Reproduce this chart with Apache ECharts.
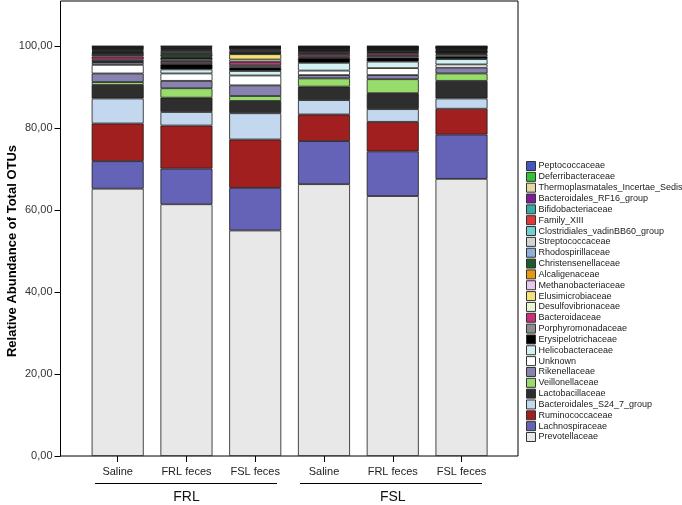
<!DOCTYPE html>
<html>
<head>
<meta charset="utf-8">
<script src="https://cdn.jsdelivr.net/npm/echarts@6/dist/echarts.min.js"></script>
<style>
html,body{margin:0;padding:0;background:#fff;}
#c{width:682px;height:505px;}
</style>
</head>
<body>
<div id="c"></div>
<script>
// Categories (bottom axis) and groups
var categories = ['Saline', 'FRL feces', 'FSL feces', 'Saline', 'FRL feces', 'FSL feces'];
var groups = ['FRL', 'FSL'];
var yTicks = [0, 20, 40, 60, 80, 100];

// Series values (% of total OTUs), stacking order bottom -> top
var prevotellaceae      = [65.2, 61.4, 55.0, 66.3, 63.4, 67.6];
var lachnospiraceae     = [6.7, 8.7, 10.4, 10.5, 10.9, 10.8];
var ruminococcaceae     = [9.2, 10.5, 11.8, 6.5, 7.2, 6.3];
var s24_7               = [6.1, 3.3, 6.4, 3.5, 3.1, 2.5];
var lactobacillaceae    = [3.3, 3.5, 3.0, 3.3, 3.9, 4.3];
var veillonellaceae     = [0.7, 2.3, 1.2, 2.0, 3.4, 1.8];
var rikenellaceae       = [2.1, 1.8, 2.6, 0.8, 1.0, 1.4];
var unknown             = [2.1, 1.8, 2.4, 1.1, 1.7, 0.8];
var helicobacteraceae   = [0.5, 1.0, 1.1, 1.9, 1.6, 1.3];
var erysipelotrichaceae = [0.4, 1.3, 0.9, 1.2, 1.0, 0.7];
var porphyromonadaceae  = [0.4, 0.5, 0.5, 0.4, 0.4, 0.5];
var bacteroidaceae      = [0.7, 0.4, 0.8, 0.5, 0.5, 0.2];
var desulfovibrionaceae = [0.4, 0.4, 0.6, 0.3, 0.3, 0.2];
var elusimicrobiaceae   = [0.1, 0.1, 1.3, 0.1, 0.1, 0.1];
var methanobacteriaceae = [0.3, 0.2, 0.2, 0.3, 0.3, 0.1];
var alcaligenaceae      = [0.1, 0.2, 0.1, 0.1, 0.1, 0.1];
var christensenellaceae = [0.2, 0.6, 0.4, 0.2, 0.2, 0.3];
var rhodospirillaceae   = [0.2, 0.3, 0.2, 0.1, 0.1, 0.1];
var streptococcaceae    = [0.2, 0.4, 0.3, 0.2, 0.1, 0.2];
var vadinBB60           = [0.2, 0.2, 0.2, 0.1, 0.1, 0.1];
var familyXIII          = [0.2, 0.2, 0.1, 0.1, 0.1, 0.1];
var bifidobacteriaceae  = [0.1, 0.2, 0.1, 0.1, 0.1, 0.1];
var rf16                = [0.2, 0.2, 0.1, 0.1, 0.1, 0.1];
var thermoplasmatales   = [0.1, 0.2, 0.1, 0.1, 0.1, 0.1];
var deferribacteraceae  = [0.2, 0.2, 0.1, 0.1, 0.1, 0.1];
var peptococcaceae      = [0.1, 0.1, 0.1, 0.1, 0.1, 0.1];

var seriesDefs = [
  ['Prevotellaceae', prevotellaceae, '#e8e8e8'],
  ['Lachnospiraceae', lachnospiraceae, '#6563b8'],
  ['Ruminococcaceae', ruminococcaceae, '#a21f1f'],
  ['Bacteroidales_S24_7_group', s24_7, '#c3d8ee'],
  ['Lactobacillaceae', lactobacillaceae, '#2e2e2e'],
  ['Veillonellaceae', veillonellaceae, '#98dd6c'],
  ['Rikenellaceae', rikenellaceae, '#8782b0'],
  ['Unknown', unknown, '#ffffff'],
  ['Helicobacteraceae', helicobacteraceae, '#d3f0f2'],
  ['Erysipelotrichaceae', erysipelotrichaceae, '#000000'],
  ['Porphyromonadaceae', porphyromonadaceae, '#8c8c8c'],
  ['Bacteroidaceae', bacteroidaceae, '#c8307a'],
  ['Desulfovibrionaceae', desulfovibrionaceae, '#e6f6d6'],
  ['Elusimicrobiaceae', elusimicrobiaceae, '#f6e27a'],
  ['Methanobacteriaceae', methanobacteriaceae, '#e8c8ec'],
  ['Alcaligenaceae', alcaligenaceae, '#e8980e'],
  ['Christensenellaceae', christensenellaceae, '#1d5a2c'],
  ['Rhodospirillaceae', rhodospirillaceae, '#8eb0d8'],
  ['Streptococcaceae', streptococcaceae, '#d4d4d4'],
  ['Clostridiales_vadinBB60_group', vadinBB60, '#70d0d2'],
  ['Family_XIII', familyXIII, '#e03838'],
  ['Bifidobacteriaceae', bifidobacteriaceae, '#34aca4'],
  ['Bacteroidales_RF16_group', rf16, '#7c1c96'],
  ['Thermoplasmatales_Incertae_Sedis', thermoplasmatales, '#e2d8a2'],
  ['Deferribacteraceae', deferribacteraceae, '#36c036'],
  ['Peptococcaceae', peptococcaceae, '#4258c0']
];

var FONT = 'Arial, "Liberation Sans", sans-serif';

var series = seriesDefs.map(function (d) {
  return {
    name: d[0], type: 'bar', stack: 'total',
    xAxisIndex: 1, yAxisIndex: 1,
    barWidth: 52,
    data: d[1],
    itemStyle: { color: d[2], borderColor: '#1a1a1a', borderWidth: 0.8 },
    emphasis: { disabled: true },
    animation: false
  };
});

var legendData = seriesDefs.map(function (d) { return d[0]; }).reverse();

var chart = echarts.init(document.getElementById('c'), null, { renderer: 'canvas' });
chart.setOption({
  backgroundColor: '#ffffff',
  animation: false,
  grid: [
    { left: 60.5, right: 164, top: 46, bottom: 49, show: false, outerBoundsMode: 'none', containLabel: false },
    { left: 83.3, width: 412.6, top: 46, bottom: 49, show: false, outerBoundsMode: 'none', containLabel: false },
    { left: 60.5, right: 164, top: 1, bottom: 49, show: true, borderColor: '#000', borderWidth: 1, backgroundColor: 'transparent', outerBoundsMode: 'none' }
  ],
  xAxis: [
    { type: 'value', gridIndex: 0, show: false, min: 0, max: 1 },
    { type: 'category', gridIndex: 1, data: categories, position: 'bottom',
      axisLine: { show: false },
      axisTick: { show: true, alignWithLabel: true, length: 6, lineStyle: { color: '#000', width: 1 } },
      axisLabel: { fontSize: 11, color: '#222', margin: 10, fontFamily: FONT } },
    { type: 'category', gridIndex: 1, data: groups, position: 'bottom', offset: 26,
      axisLine: { show: false }, axisTick: { show: false },
      axisLabel: { fontSize: 14, color: '#111', margin: 8, fontFamily: FONT } }
  ],
  yAxis: [
    { type: 'value', gridIndex: 0, min: 0, max: 100, interval: 20,
      name: 'Relative Abundance of Total OTUs', nameLocation: 'middle', nameGap: 42,
      nameMoveOverlap: false,
      nameTextStyle: { fontSize: 13, fontWeight: 'bold', color: '#000', fontFamily: FONT },
      axisLine: { show: true, lineStyle: { color: '#000', width: 1 } },
      axisTick: { show: true, length: 6, lineStyle: { color: '#000', width: 1 } },
      splitLine: { show: false },
      axisLabel: { fontSize: 11, color: '#333', margin: 8, fontFamily: FONT,
        formatter: function (v) { return v.toFixed(2).replace('.', ','); } } },
    { type: 'value', gridIndex: 1, min: 0, max: 100, show: false }
  ],
  legend: {
    data: legendData,
    orient: 'vertical', left: 526, top: 161, padding: 0,
    itemWidth: 9, itemHeight: 9, itemGap: 0.84,
    icon: 'rect',
    selectedMode: false,
    itemStyle: { borderColor: '#333', borderWidth: 1 },
    textStyle: { fontSize: 9, color: '#222', fontFamily: FONT, lineHeight: 10, padding: [0, 0, 0, -2] }
  },
  graphic: [
    { type: 'line', shape: { x1: 95, y1: 483.5, x2: 277, y2: 483.5 }, style: { stroke: '#000', lineWidth: 1.2 } },
    { type: 'line', shape: { x1: 300, y1: 483.5, x2: 482, y2: 483.5 }, style: { stroke: '#000', lineWidth: 1.2 } }
  ],
  series: series
});
</script>
</body>
</html>
